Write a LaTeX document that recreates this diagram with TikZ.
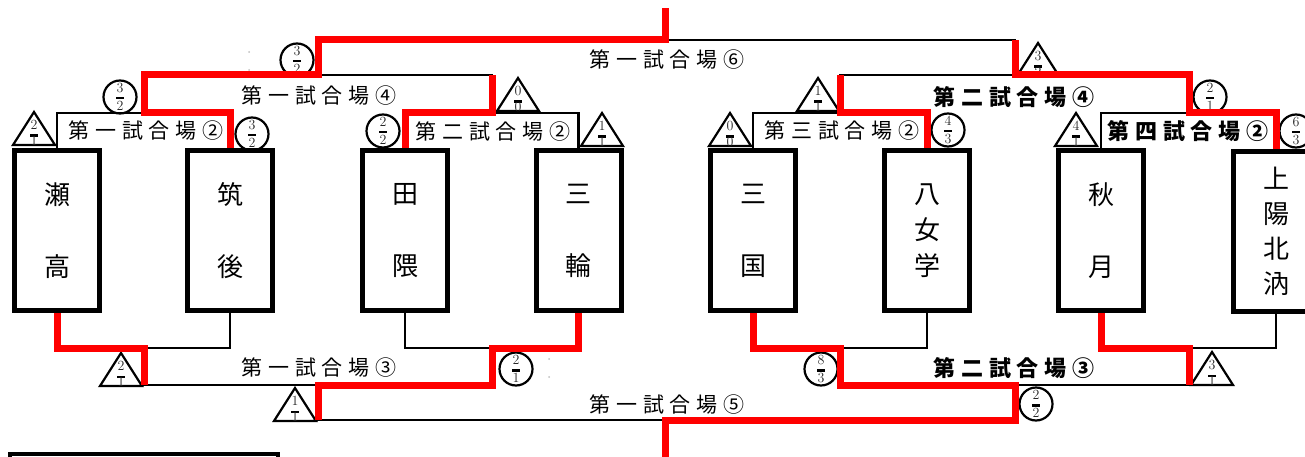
\documentclass[tikz,border=0pt]{standalone}
\usepackage{fontspec}
\newfontfamily\jp{Noto Sans CJK JP}
\newfontfamily\jpspaced[LetterSpace=27]{Noto Sans CJK JP}
\usepackage{xcolor}
\definecolor{winred}{RGB}{255,0,0}
\def\splitscore#1/#2\relax{\def\sctop{#1}\def\scbot{#2}}
\tikzset{
    score/.style = {font=\fontsize{14}{14}\selectfont, text=black!85, inner sep=0pt},
    circmark/.pic = {
    \splitscore#1\relax
    \draw[line width=2.2pt] (0,0) circle[radius=16.5pt];
    \node[score] (-hi) at (0,-9.5) {\sctop};
    \fill (-4,0) rectangle (4,2.5);
    \node[score] (-lo) at (0,9) {\scbot};
    },
    trimark/.pic = {
    \splitscore#1\relax
    \draw[line width=2.2pt, line join=miter] (-21,0) -- (21,0) -- (0,-33) -- cycle;
    \node[score] (-hi) at (0,-20) {\sctop};
    \fill (-4,-10.5) rectangle (4,-8);
    \node[score] (-lo) at (0,-4) {\scbot};
    }
}
\usetikzlibrary{positioning}

\begin{document}
\begin{tikzpicture}[x=1pt, y=-1pt, line join=miter,
    team/.style = {draw, line width=5pt, minimum width=85pt, minimum height=160pt, inner sep=0pt,
        align=center, font=\jp\fontsize{26}{72}\selectfont},
    team3/.style = {team, font=\jp\fontsize{26}{36}\selectfont},
    team4/.style = {team, font=\jp\fontsize{26}{35}\selectfont},
    bracket/.style = {line width=2.6pt},
    winline/.style = {draw=winred, line width=7pt},
    match/.style = {font=\jpspaced\fontsize{21}{21}\selectfont, inner sep=0pt},
    boldmatch/.style = {font=\jpspaced\bfseries\fontsize{22}{22}\selectfont, inner sep=0pt}]
	\useasboundingbox (0,0) rectangle (1305,457);
	\clip (0,0) rectangle (1305,457);
	% score marks
	\pic (t1) at (34,145) {trimark=2/1};
	\pic (t2) at (518,111) {trimark=0/0};
	\pic (t3) at (602,146) {trimark=1/1};
	\pic (t4) at (730,146) {trimark=0/0};
	\pic (t5) at (818,111) {trimark=1/1};
	\pic (t6) at (1038,76) {trimark=3/2};
	\pic (t7) at (1076,146) {trimark=4/1};
	\pic (t8) at (121,386) {trimark=2/1};
	\pic (t9) at (295,421) {trimark=1/1};
	\pic (t10) at (1212,385) {trimark=3/1};
	\pic (c1) at (120,97) {circmark=3/2};
	\pic (c2) at (297,60) {circmark=3/2};
	\pic (c3) at (252,134) {circmark=3/2};
	\pic (c4) at (383,131) {circmark=2/2};
	\pic (c5) at (948,130) {circmark=4/3};
	\pic (c6) at (1210,97) {circmark=2/1};
	\pic (c7) at (1296,131) {circmark=6/3};
	\pic (c8) at (516,369) {circmark=2/1};
	\pic (c9) at (821,369) {circmark=8/3};
	\pic (c10) at (1036,404) {circmark=2/2};
	\fill[gray!50] (249,52) circle[radius=1pt];
	\fill[gray!50] (249,70) circle[radius=1pt];
	\fill[gray!50] (549,359) circle[radius=1pt];
	\fill[gray!50] (549,377) circle[radius=1pt];
	% teams
	\node[team] (seta) at (57,230.5) {瀬\\高};
	\node[team] (chikugo) at (230,230.5) {筑\\後};
	\node[team] (taguma) at (405,230.5) {田\\隈};
	\node[team] (miwa) at (578.5,230.5) {三\\輪};
	\node[team] (mikuni) at (753,230.5) {三\\国};
	\node[team3] (yame) at (927,230.5) {八\\女\\学};
	\node[team] (akizuki) at (1101,230.5) {秋\\月};
	\node[team4] (kamiyo) at (1276,231.5) {上\\陽\\北\\汭};
	\node[draw, line width=3.5pt, minimum width=268pt, minimum height=40pt, inner sep=0pt] (legend) at (144,474) {};
	% junctions
	\coordinate (m1) at (144,113);
	\coordinate (m2) at (492,113);
	\coordinate (m3) at (840,113);
	\coordinate (m4) at (1189,113);
	\coordinate (n1) at (318,75);
	\coordinate (n2) at (1015,75);
	\coordinate (f) at (665,40);
	\coordinate (top) at (665,8);
	\coordinate (p1) at (144,348);
	\coordinate (p2) at (492,348);
	\coordinate (p3) at (840,348);
	\coordinate (p4) at (1189,348);
	\coordinate (q1) at (318,385);
	\coordinate (q2) at (1015,385);
	\coordinate (g) at (665,420);
	\coordinate (bot) at (665,470);
	% black brackets
	\draw[bracket] (seta.north) |- (m1) -| (chikugo.north);
	\draw[bracket] (taguma.north) |- (m2) -| (miwa.north);
	\draw[bracket] (mikuni.north) |- (m3) -| (yame.north);
	\draw[bracket] (akizuki.north) |- (m4) -| (kamiyo.north);
	\draw[bracket] (m1) |- (n1) -| (m2);
	\draw[bracket] (m3) |- (n2) -| (m4);
	\draw[bracket] (n1) |- (f) -| (n2);
	\draw[bracket] (seta.south) |- (p1) -| (chikugo.south);
	\draw[bracket] (taguma.south) |- (p2) -| (miwa.south);
	\draw[bracket] (mikuni.south) |- (p3) -| (yame.south);
	\draw[bracket] (akizuki.south) |- (p4) -| (kamiyo.south);
	\draw[bracket] (p1) |- (q1) -| (p2);
	\draw[bracket] (p3) |- (q2) -| (p4);
	\draw[bracket] (q1) |- (g) -| (q2);
	% winners
	\draw[winline] (chikugo.north) |- (m1) |- (n1) |- (f) -- (top);
	\draw[winline] (taguma.north) |- (m2) -- (m2 |- n1);
	\draw[winline] (yame.north) |- (m3) -- (m3 |- n2);
	\draw[winline] (kamiyo.north) |- (m4) |- (n2) -- (n2 |- f);
	\draw[winline] (seta.south) |- (p1) -- (p1 |- q1);
	\draw[winline] (miwa.south) |- (p2) |- (q1) -- (q1 |- g);
	\draw[winline] (mikuni.south) |- (p3) |- (q2) |- (g) -- (bot);
	\draw[winline] (akizuki.south) |- (p4) -- (p4 |- q2);
	% match labels
	\node[match] (l12) at (146,131) {第一試合場②};
	\node[match] (l14) at (319,96) {第一試合場④};
	\node[match] (l22) at (493,132) {第二試合場②};
	\node[match] (l16) at (667,60) {第一試合場⑥};
	\node[match] (l32) at (842,131) {第三試合場②};
	\node[boldmatch] (l24) at (1014,97) {第二試合場④};
	\node[boldmatch] (l42) at (1188,131) {第四試合場②};
	\node[match] (l13) at (319,368) {第一試合場③};
	\node[match] (l15) at (667,405) {第一試合場⑤};
	\node[boldmatch] (l23) at (1014,368) {第二試合場③};
\end{tikzpicture}
\end{document}
